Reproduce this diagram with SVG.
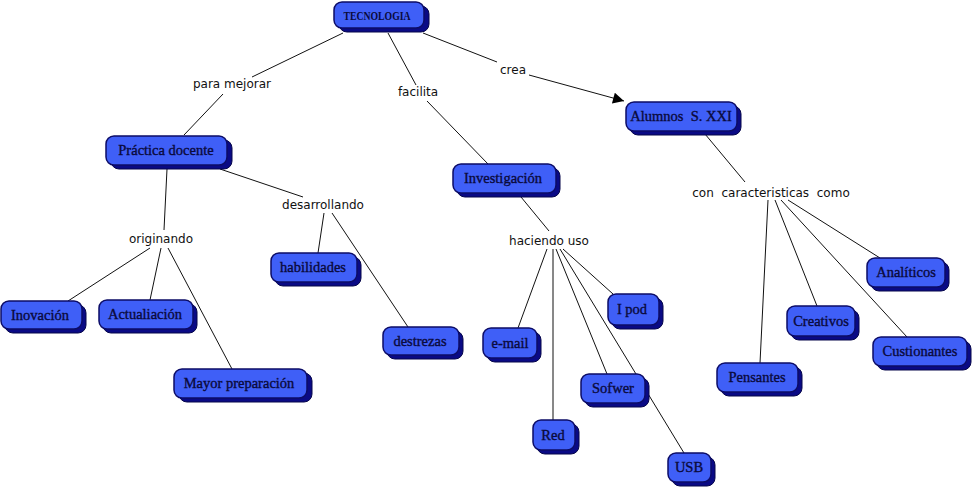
<svg xmlns="http://www.w3.org/2000/svg" width="976" height="488" viewBox="0 0 976 488">
<defs>
<style>
.sh{fill:#0a0a85;stroke:#06064a;stroke-width:1}
.bx{fill:#3f5ff7;stroke:#0c0c66;stroke-width:1.5}
.t{font-family:"Liberation Serif","DejaVu Serif",serif;font-size:14.5px;fill:#0a0a3c;stroke:#0a0a3c;stroke-width:0.35;text-anchor:middle}
.tb{font-family:"Liberation Serif","DejaVu Serif",serif;font-size:12px;font-weight:bold;fill:#0a0a3c;text-anchor:middle}
.lp{font-family:"DejaVu Sans",Verdana,sans-serif;font-size:12px;fill:#111;text-anchor:middle;white-space:pre}
.c line{stroke:#111;stroke-width:1}
</style>
<marker id="arr" viewBox="0 0 10 10" refX="10" refY="5" markerWidth="16" markerHeight="11" markerUnits="userSpaceOnUse" orient="auto">
<path d="M0,0 L10,5 L0,10 z" fill="#000"/>
</marker>
</defs>
<rect width="976" height="488" fill="#fff"/>
<g id="connectors" class="c">
<line x1="343" y1="33" x2="252" y2="77"/>
<line x1="223" y1="94" x2="184" y2="135"/>
<line x1="388" y1="33" x2="416" y2="85"/>
<line x1="427" y1="101" x2="488" y2="164"/>
<line x1="423" y1="33" x2="497" y2="62"/>
<line x1="529" y1="75" x2="624" y2="101" marker-end="url(#arr)"/>
<line x1="167" y1="169" x2="164" y2="230"/>
<line x1="150" y1="248" x2="68" y2="301"/>
<line x1="161" y1="248" x2="150" y2="300"/>
<line x1="168" y1="248" x2="232" y2="369"/>
<line x1="220" y1="169" x2="303" y2="197"/>
<line x1="324" y1="213" x2="318" y2="253"/>
<line x1="332" y1="213" x2="408" y2="327"/>
<line x1="521" y1="197" x2="549" y2="231"/>
<line x1="547" y1="249" x2="518" y2="328"/>
<line x1="553" y1="249" x2="553" y2="420"/>
<line x1="556" y1="249" x2="607" y2="374"/>
<line x1="560" y1="249" x2="684" y2="453"/>
<line x1="563" y1="249" x2="613" y2="294"/>
<line x1="705" y1="134" x2="745" y2="182"/>
<line x1="768" y1="200" x2="760" y2="363"/>
<line x1="775" y1="200" x2="817" y2="306"/>
<line x1="781" y1="200" x2="907" y2="337"/>
<line x1="788" y1="200" x2="880" y2="258"/>
</g>
<g id="labels">
<text class="lp" x="232" y="88">para mejorar</text>
<text class="lp" x="418" y="96">facilita</text>
<text class="lp" x="513" y="74">crea</text>
<text class="lp" x="161" y="243">originando</text>
<text class="lp" x="323" y="209">desarrollando</text>
<text class="lp" x="549" y="245">haciendo uso</text>
<text class="lp" x="771" y="197" xml:space="preserve">con  caracteristicas  como</text>
</g>
<g id="n-tecnologia"><rect class="sh" x="339" y="6" width="90" height="26" rx="8"/><rect class="bx" x="334" y="2" width="90" height="26" rx="8"/><text class="tb" x="377" y="20" textLength="67" lengthAdjust="spacingAndGlyphs">TECNOLOGIA</text></g>
<g id="n-practica"><rect class="sh" x="111" y="140" width="121" height="29" rx="8"/><rect class="bx" x="106" y="136" width="121" height="29" rx="8"/><text class="t" x="166" y="155">Práctica docente</text></g>
<g id="n-inovacion"><rect class="sh" x="5" y="305" width="81" height="28" rx="8"/><rect class="bx" x="1" y="301" width="81" height="28" rx="8"/><text class="t" x="40" y="320">Inovación</text></g>
<g id="n-actualiacion"><rect class="sh" x="103" y="304" width="94" height="29" rx="8"/><rect class="bx" x="99" y="300" width="94" height="29" rx="8"/><text class="t" x="145" y="319">Actualiación</text></g>
<g id="n-mayor"><rect class="sh" x="179" y="373" width="133" height="29" rx="8"/><rect class="bx" x="174" y="369" width="133" height="29" rx="8"/><text class="t" x="239" y="388">Mayor preparación</text></g>
<g id="n-habilidades"><rect class="sh" x="275" y="257" width="86" height="29" rx="8"/><rect class="bx" x="271" y="253" width="86" height="29" rx="8"/><text class="t" x="313" y="272">habilidades</text></g>
<g id="n-destrezas"><rect class="sh" x="387" y="331" width="76" height="28" rx="8"/><rect class="bx" x="383" y="327" width="76" height="28" rx="8"/><text class="t" x="420" y="346">destrezas</text></g>
<g id="n-investigacion"><rect class="sh" x="457" y="168" width="103" height="29" rx="8"/><rect class="bx" x="453" y="164" width="103" height="29" rx="8"/><text class="t" x="503" y="183">Investigación</text></g>
<g id="n-email"><rect class="sh" x="487" y="332" width="54" height="30" rx="8"/><rect class="bx" x="483" y="328" width="54" height="30" rx="8"/><text class="t" x="510" y="348">e-mail</text></g>
<g id="n-ipod"><rect class="sh" x="612" y="298" width="51" height="31" rx="8"/><rect class="bx" x="608" y="294" width="51" height="31" rx="8"/><text class="t" x="632" y="314">I pod</text></g>
<g id="n-sofwer"><rect class="sh" x="585" y="378" width="64" height="29" rx="8"/><rect class="bx" x="581" y="374" width="64" height="29" rx="8"/><text class="t" x="613" y="393">Sofwer</text></g>
<g id="n-red"><rect class="sh" x="537" y="424" width="42" height="30" rx="8"/><rect class="bx" x="533" y="420" width="42" height="30" rx="8"/><text class="t" x="553" y="440">Red</text></g>
<g id="n-usb"><rect class="sh" x="672" y="457" width="43" height="29" rx="8"/><rect class="bx" x="668" y="453" width="43" height="29" rx="8"/><text class="t" x="689" y="472">USB</text></g>
<g id="n-alumnos"><rect class="sh" x="630" y="106" width="111" height="29" rx="8"/><rect class="bx" x="626" y="102" width="111" height="29" rx="8"/><text class="t" x="681" y="121" xml:space="preserve">Alumnos  S. XXI</text></g>
<g id="n-analiticos"><rect class="sh" x="871" y="262" width="78" height="29" rx="8"/><rect class="bx" x="867" y="258" width="78" height="29" rx="8"/><text class="t" x="906" y="277">Analíticos</text></g>
<g id="n-creativos"><rect class="sh" x="791" y="310" width="68" height="30" rx="8"/><rect class="bx" x="787" y="306" width="68" height="30" rx="8"/><text class="t" x="821" y="326">Creativos</text></g>
<g id="n-cuestionantes"><rect class="sh" x="877" y="341" width="94" height="29" rx="8"/><rect class="bx" x="873" y="337" width="94" height="29" rx="8"/><text class="t" x="920" y="356">Custionantes</text></g>
<g id="n-pensantes"><rect class="sh" x="721" y="367" width="81" height="29" rx="8"/><rect class="bx" x="717" y="363" width="81" height="29" rx="8"/><text class="t" x="757" y="382">Pensantes</text></g>
</svg>
